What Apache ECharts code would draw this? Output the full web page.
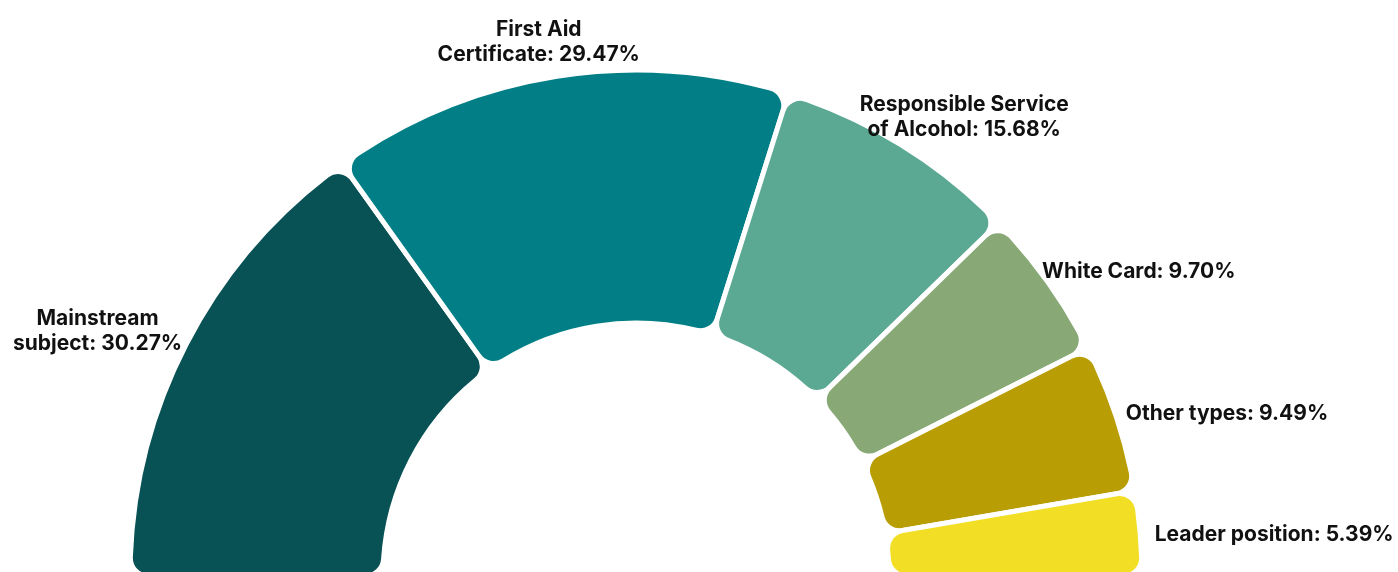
<!DOCTYPE html>
<html>
<head>
<meta charset="utf-8">
<script src="https://cdn.jsdelivr.net/npm/echarts@6/dist/echarts.min.js"></script>
<style>
  html, body { margin: 0; padding: 0; background: #fff; }
  #chart { width: 1398px; height: 572px; }
</style>
</head>
<body>
<div id="chart"></div>
<script>
const categories = ['Mainstream subject', 'First Aid Certificate', 'Responsible Service of Alcohol', 'White Card', 'Other types', 'Leader position'];
const labelNames = ['Mainstream\nsubject', 'First Aid\nCertificate', 'Responsible Service\nof Alcohol', 'White Card', 'Other types', 'Leader position'];
const values = [30.27, 29.47, 15.68, 9.70, 9.49, 5.39];
const colors = ['#085154', '#027F86', '#5BA893', '#88A876', '#B89D05', '#F2DF25'];

const CX = 636, CY = 576, R_IN = 253, R_OUT = 506, BORDER = 5, R_LABEL = 521, LABEL_DY = 4;
const total = values.reduce((a, b) => a + b, 0);

function midAngle(i) {
  let cum = 0;
  for (let k = 0; k < i; k++) cum += values[k];
  cum += values[i] / 2;
  return Math.PI - (cum / total) * Math.PI;
}

const chart = echarts.init(document.getElementById('chart'));
chart.setOption({
  animation: false,
  series: [{
    type: 'pie',
    center: [CX, CY],
    radius: [R_IN, R_OUT],
    startAngle: 180,
    endAngle: 0,
    clockwise: true,
    avoidLabelOverlap: false,
    itemStyle: { borderColor: '#fff', borderWidth: BORDER, borderRadius: 18 },
    label: {
      show: true,
      position: 'outside',
      color: '#111',
      formatter: p => {
        const txt = labelNames[p.dataIndex] + ': ' + values[p.dataIndex].toFixed(2) + '%';
        return txt.split('\n').map(l => '{a|' + l + '}').join('\n');
      },
      rich: {
        a: {
          align: 'center',
          fontFamily: 'Inter',
          fontWeight: 'bold',
          fontSize: 21,
          lineHeight: 25,
          color: '#111'
        }
      }
    },
    labelLine: { show: false, length: 4, length2: 0 },
    emphasis: { disabled: true },
    labelLayout: function (params) {
      const a = midAngle(params.dataIndex);
      const c = Math.cos(a), s = Math.sin(a);
      const w = params.labelRect.width, h = params.labelRect.height;
      const ax = CX + R_LABEL * c, ay = CY - R_LABEL * s;
      const xf = (1 - c) / 2, yf = (1 + s) / 2;
      return {
        x: ax - xf * w + w / 2,
        y: ay - yf * h + h / 2 + LABEL_DY,
        align: 'center',
        verticalAlign: 'middle'
      };
    },
    data: categories.map((c, i) => ({ name: c, value: values[i], itemStyle: { color: colors[i] } }))
  }]
});
</script>
</body>
</html>
